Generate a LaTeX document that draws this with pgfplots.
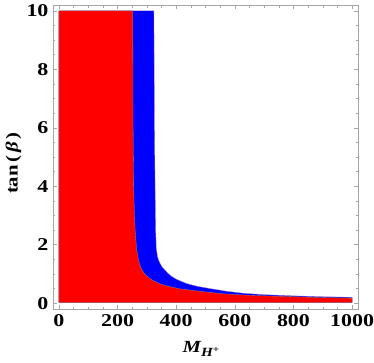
\documentclass[border=0pt]{standalone}
\usepackage{fontspec}
\usepackage{pgfplots}
\pgfplotsset{compat=1.18}
\setmainfont{Liberation Serif}
\newfontfamily\figfont[FakeStretch=1.22]{Liberation Serif}
\definecolor{framegray}{RGB}{165,165,165}
\definecolor{redline}{RGB}{140,150,110}
\definecolor{blueline}{RGB}{170,120,200}
\begin{document}
\begin{tikzpicture}
\begin{axis}[
    scale only axis,
    width=305pt, height=304pt,
    xmin=-20, xmax=1020,
    ymin=-0.2, ymax=10.2,
    xtick={0,200,...,1000},
    ytick={0,2,...,10},
    minor x tick num=3,
    minor y tick num=3,
    tick align=inside,
    major tick length=4pt,
    minor tick length=2.5pt,
    axis line style={framegray},
    tick style={framegray, thin},
    /pgf/number format/assume math mode=true,
    /pgf/number format/1000 sep={},
    ticklabel style={font=\figfont\fontsize{18}{18}\selectfont\bfseries, black},
    xticklabel style={yshift=-1.5pt},
    yticklabel style={xshift=-1pt},
    xlabel={\figfont\fontsize{17}{17}\selectfont\bfseries\itshape M\raisebox{-0.4ex}{\fontsize{12.5}{12.5}\selectfont H\raisebox{0.55ex}{\fontsize{9}{9}\selectfont +}}},
    ylabel={\figfont\fontsize{17}{17}\selectfont\bfseries tan\,(\,{\itshape β}\,)},
    xlabel style={at={(axis description cs:0.485,-0.1447)}, anchor=base},
    ylabel style={at={(axis description cs:-0.1295,0.48)}, anchor=center, rotate=0},
]
% blue region (outer boundary)
\addplot[fill=blue, draw=blueline, line width=0.3pt] coordinates {
  (0,0.02) (0,10) (324,10) (326,6) (328,4) (330,2.5) (332,1.9) (336,1.6)
  (341,1.45) (345,1.36) (352,1.24) (362,1.13) (372,1.02) (384,0.92)
  (400,0.82) (436,0.67) (470,0.58) (515,0.50) (570,0.41) (628,0.34)
  (700,0.29) (800,0.25) (900,0.22) (1000,0.20) (1000,0.02)
} -- cycle;
% red region (inner boundary)
\addplot[fill=red, draw=redline, line width=0.3pt] coordinates {
  (0,0.02) (0,10) (252,10) (252.5,8) (253,6) (254,5) (255,4) (257,3.2)
  (260,2.5) (265,1.85) (272,1.45) (280,1.2) (292,1.0) (305,0.88)
  (325,0.75) (345,0.66) (375,0.57) (413,0.49) (460,0.43) (504,0.38)
  (560,0.32) (628,0.28) (700,0.25) (800,0.22) (900,0.19) (1000,0.17)
  (1000,0.02)
} -- cycle;
\end{axis}
\pgfresetboundingbox
\path (-53pt,-53pt) rectangle (321pt,309pt);
\end{tikzpicture}
\end{document}
